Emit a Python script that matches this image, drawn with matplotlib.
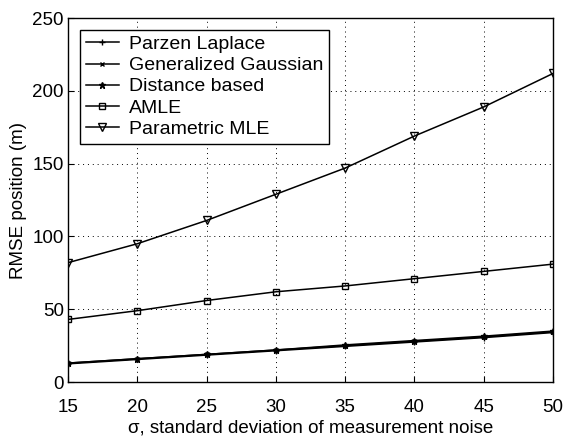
import matplotlib
matplotlib.use('Agg')
import matplotlib.pyplot as plt

plt.rcParams['font.family'] = ['Liberation Sans', 'DejaVu Sans']

sigma = [15, 20, 25, 30, 35, 40, 45, 50]
parzen = [12.5, 15.5, 18.5, 21.5, 24.5, 27.5, 30.5, 34.0]
gen_gauss = [13.0, 16.0, 19.0, 22.0, 25.0, 28.0, 31.0, 34.5]
dist_based = [13.0, 16.0, 19.0, 22.0, 25.5, 28.5, 31.5, 35.0]
amle = [43, 49, 56, 62, 66, 71, 76, 81]
param_mle = [82, 95, 111, 129, 147, 169, 189, 212]

fig = plt.figure(figsize=(5.64, 4.42), dpi=100)
ax = fig.add_axes([0.1206, 0.1357, 0.86, 0.8233])

ax.plot(sigma, parzen, 'k-', marker='+', ms=5, lw=1.1, label='Parzen Laplace')
ax.plot(sigma, gen_gauss, 'k-', marker='x', ms=3.5, lw=1.1, label='Generalized Gaussian')
ax.plot(sigma, dist_based, 'k-', marker='*', ms=5, lw=1.1, label='Distance based')
ax.plot(sigma, amle, 'k-', marker='s', ms=5, mfc='none', lw=1.1, label='AMLE')
ax.plot(sigma, param_mle, 'k-', marker='v', ms=6, mfc='none', lw=1.1, label='Parametric MLE')

ax.set_xlim(15, 50)
ax.set_ylim(0, 250)
ax.set_xticks(sigma)
ax.set_yticks([0, 50, 100, 150, 200, 250])
ax.grid(True, color='k', linestyle=(0, (1, 4)), linewidth=0.7)
ax.tick_params(axis='both', direction='in', labelsize=13.5, length=4)
ax.tick_params(axis='x', pad=12)
ax.tick_params(axis='y', pad=3)
ax.set_xlabel('σ, standard deviation of measurement noise', fontsize=13.5, labelpad=3)
ax.set_ylabel('RMSE position (m)', fontsize=13.5, labelpad=4)
for s in ax.spines.values():
    s.set_linewidth(1)

leg = ax.legend(loc='upper left', fontsize=14, frameon=True, fancybox=False,
                edgecolor='k', framealpha=1, handlelength=1.7, handletextpad=0.55,
                borderaxespad=0.6, labelspacing=0.18, borderpad=0.3)
leg.get_frame().set_linewidth(1)

fig.savefig('out.png', dpi=100)
